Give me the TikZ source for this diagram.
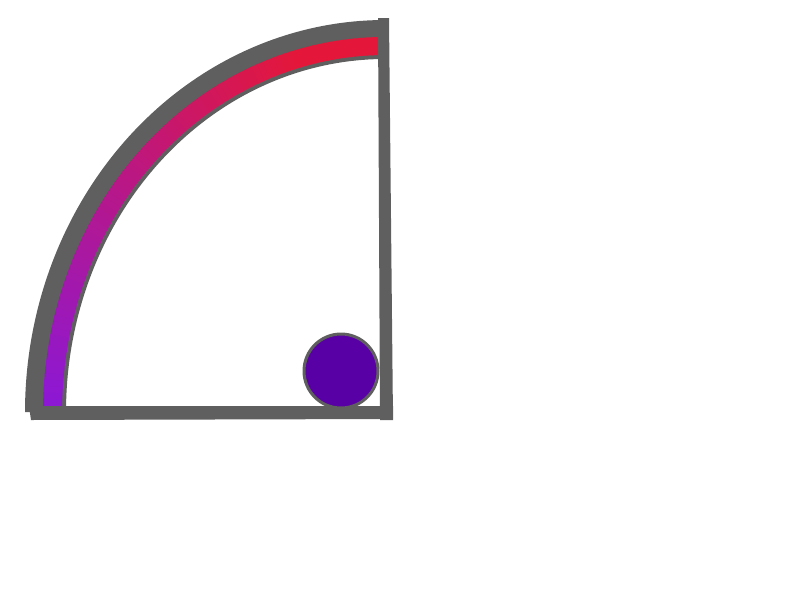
\documentclass[tikz,border=0pt]{standalone}
\definecolor{framegray}{HTML}{5F5F5F}
\definecolor{bandpurple}{HTML}{8A18D8}
\definecolor{bandred}{HTML}{E4173A}
\definecolor{ballpurple}{HTML}{5800A6}
\tikzset{
  frame/.style={fill=framegray},
  ball/.style={circle, fill=ballpurple, draw=framegray, line width=3pt, minimum size=74pt, inner sep=0pt}
}
\begin{document}
\begin{tikzpicture}[x=1pt,y=-1pt]
\useasboundingbox (0,0) rectangle (800,600);
% gray arc band
\fill[frame] plot[domain=90:180, samples=90] ({385+360*cos(\x)},{412-392*sin(\x)})
  -- plot[domain=180:90, samples=90] ({385+319*cos(\x)},{412-353*sin(\x)}) -- cycle;
% coloured band
\foreach \a in {90,91,...,179}{
  \pgfmathsetmacro\p{min(100,120*(1-(\a-90)/90))}
  \pgfmathsetmacro\b{\a+1.3}
  \fill[bandred!\p!bandpurple] plot[domain=\a:\b, samples=3] ({385+342*cos(\x)},{412-375*sin(\x)})
    -- plot[domain=\b:\a, samples=3] ({385+323*cos(\x)},{412-357*sin(\x)}) -- cycle;
}
% straight sides
\fill[frame] (29,406) -- (393,406) -- (393,419) -- (31,420) -- cycle;
\fill[frame] (378,18) -- (389,18) -- (393,420) -- (380,420) -- cycle;
% ball
\node[ball] (b) at (341,371) {};
\end{tikzpicture}
\end{document}
